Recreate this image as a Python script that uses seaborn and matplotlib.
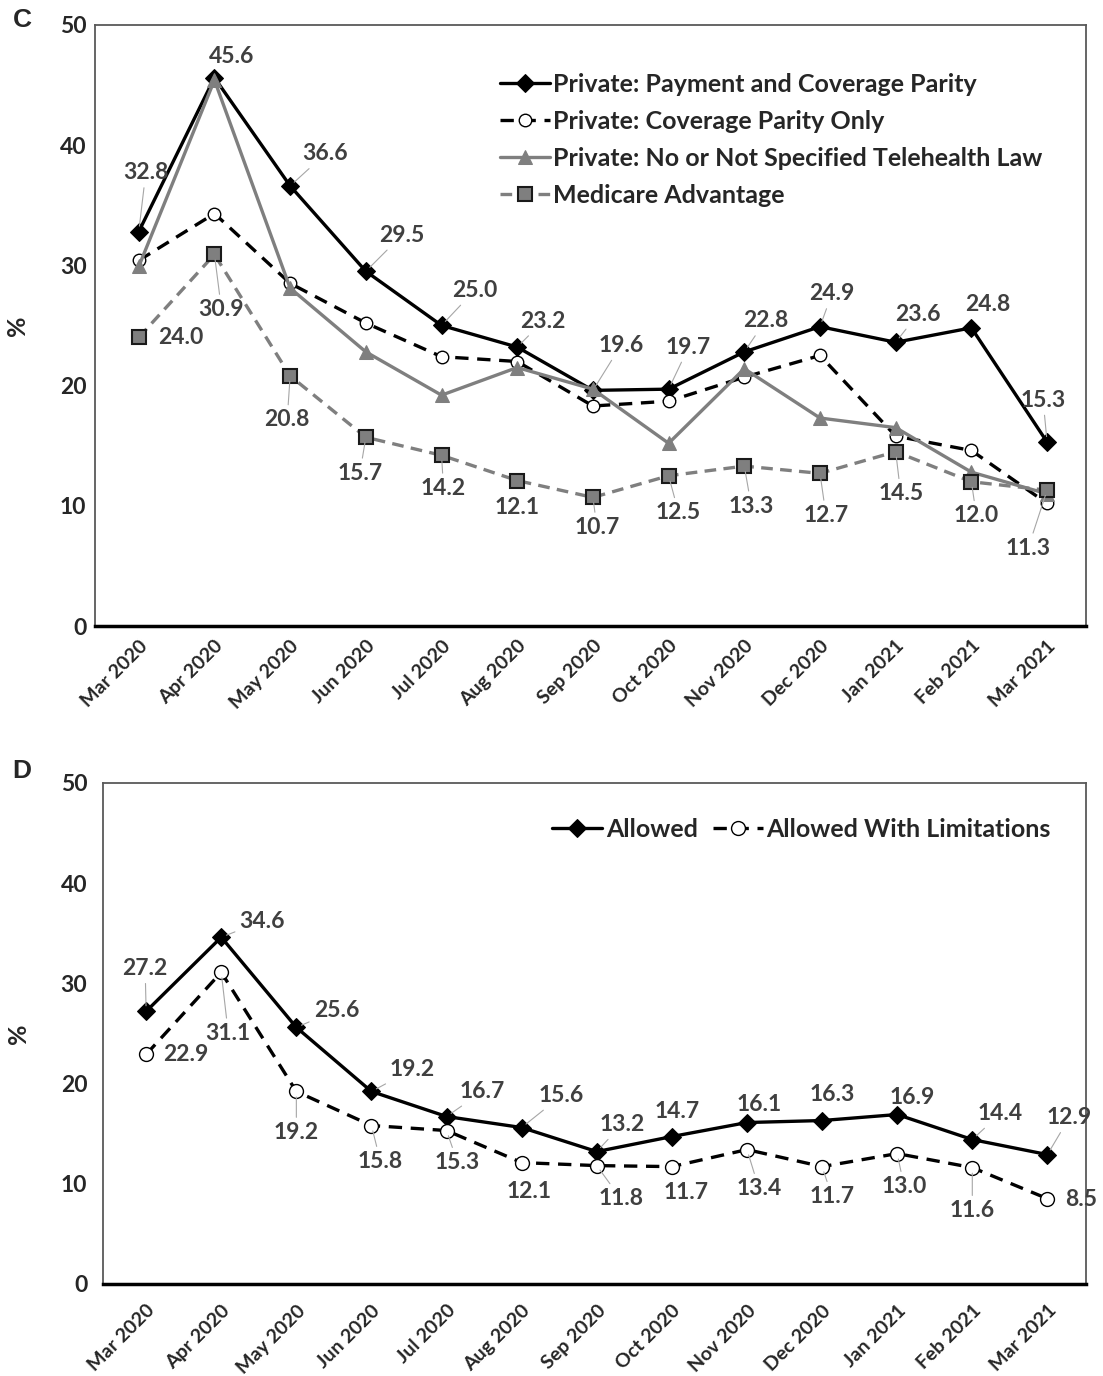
import numpy as np
import matplotlib
matplotlib.use('Agg')
import matplotlib.pyplot as plt
import seaborn as sns

# month categories
months = ['Mar 2020', 'Apr 2020', 'May 2020', 'Jun 2020', 'Jul 2020', 'Aug 2020', 'Sep 2020',
          'Oct 2020', 'Nov 2020', 'Dec 2020', 'Jan 2021', 'Feb 2021', 'Mar 2021']

# panel C series (%)
pay_parity = [32.8, 45.6, 36.6, 29.5, 25.0, 23.2, 19.6, 19.7, 22.8, 24.9, 23.6, 24.8, 15.3]
coverage_only = [30.4, 34.3, 28.5, 25.2, 22.4, 22.0, 18.3, 18.7, 20.7, 22.5, 15.8, 14.6, 10.2]
no_law = [29.9, 45.4, 28.1, 22.8, 19.2, 21.5, 19.7, 15.2, 21.4, 17.3, 16.5, 12.8, 11.0]
medicare_adv = [24.0, 30.9, 20.8, 15.7, 14.2, 12.1, 10.7, 12.5, 13.3, 12.7, 14.5, 12.0, 11.3]

# panel D series (%)
allowed = [27.2, 34.6, 25.6, 19.2, 16.7, 15.6, 13.2, 14.7, 16.1, 16.3, 16.9, 14.4, 12.9]
allowed_limited = [22.9, 31.1, 19.2, 15.8, 15.3, 12.1, 11.8, 11.7, 13.4, 11.7, 13.0, 11.6, 8.5]

# label offsets in pixels (dx right, dy down)
off_pay = [(7, -59), (17, -21), (35, -32), (36, -36), (33, -35), (26, -26), (28, -45),
           (20, -42), (21, -31), (12, -33), (22, -28), (16, -23), (-4, -42)]
off_med = [(42, 0), (7, 55), (-3, 44), (-6, 36), (2, 33), (0, 27), (4, 30),
           (10, 37), (7, 40), (6, 42), (5, 42), (5, 34), (-19, 58)]
off_allowed = [(-1, -43), (41, -16), (40, -17), (41, -22), (36, -25), (40, -32), (25, -27),
               (5, -25), (12, -18), (10, -26), (15, -17), (28, -26), (22, -37)]
off_limited = [(40, 0), (7, 61), (0, 41), (9, 36), (11, 32), (7, 29), (24, 33),
               (14, 26), (12, 39), (10, 30), (7, 33), (0, 43), (34, 1)]

sns.set_style('white')
plt.rcParams['font.family'] = ['Lato', 'DejaVu Sans']

x = np.arange(len(months))
label_color = '#404040'
lead_color = '#a6a6a6'


def add_labels(ax, vals, offsets):
    for i, (v, (dx, dy)) in enumerate(zip(vals, offsets)):
        # short offsets sit next to the marker, no leader line there
        arrow = None
        if (dx * dx + dy * dy) ** 0.5 > 30 and abs(dy) > 5:
            arrow = dict(arrowstyle='-', color=lead_color, lw=0.8, shrinkA=1, shrinkB=4)
        ax.annotate(f'{v:.1f}', xy=(i, v), xytext=(dx * 0.72, -dy * 0.72),
                    textcoords='offset points', ha='center', va='center',
                    fontsize=16.5, fontweight='bold', color=label_color, zorder=10,
                    arrowprops=arrow)


def style_axes(ax, ypad, xpad, ylab_x):
    ax.set_xlim(-0.58, 12.52)
    ax.set_ylim(0, 50)
    ax.set_yticks([0, 10, 20, 30, 40, 50])
    ax.set_yticklabels(['0', '10', '20', '30', '40', '50'], fontsize=16.5, fontweight='bold')
    ax.set_xticks(x)
    ax.set_xticklabels(months, rotation=45, ha='right', rotation_mode='anchor',
                       fontsize=14, fontweight='bold')
    ax.tick_params(axis='both', length=0)
    ax.tick_params(axis='y', pad=ypad)
    ax.tick_params(axis='x', pad=xpad)
    for s in ['top', 'right', 'left']:
        ax.spines[s].set_color('#595959')
        ax.spines[s].set_linewidth(1.3)
    ax.spines['bottom'].set_color('black')
    ax.spines['bottom'].set_linewidth(2.5)
    ax.set_xlabel('')
    ax.set_ylabel('%', fontsize=18, fontweight='bold')
    ax.yaxis.set_label_coords(ylab_x, 0.5)


fig = plt.figure(figsize=(11.03, 13.76), dpi=100)

# ---- panel C ----
ax1 = fig.add_axes([0.086, 0.545, 0.899, 0.437])
sns.lineplot(x=x, y=pay_parity, ax=ax1, color='black', linewidth=2.4, marker='D',
             markersize=9, markerfacecolor='black', markeredgecolor='black',
             label='Private: Payment and Coverage Parity')
sns.lineplot(x=x, y=coverage_only, ax=ax1, color='black', linewidth=2.4, marker='o',
             markersize=9, markerfacecolor='white', markeredgecolor='black', markeredgewidth=1,
             label='Private: Coverage Parity Only')
ax1.lines[-1].set_dashes((4, 2.6))
sns.lineplot(x=x, y=no_law, ax=ax1, color='#7f7f7f', linewidth=2.4, marker='^',
             markersize=10, markerfacecolor='#7f7f7f', markeredgecolor='#7f7f7f',
             label='Private: No or Not Specified Telehealth Law')
sns.lineplot(x=x, y=medicare_adv, ax=ax1, color='#7f7f7f', linewidth=2.4, marker='s',
             markersize=10, markerfacecolor='#7f7f7f', markeredgecolor='#1a1a1a',
             markeredgewidth=1.5, label='Medicare Advantage')
ax1.lines[-1].set_dashes((3.5, 2.2))
add_labels(ax1, pay_parity, off_pay)
add_labels(ax1, medicare_adv, off_med)
style_axes(ax1, ypad=6, xpad=8, ylab_x=-0.066)
ax1.legend(loc='upper left', bbox_to_anchor=(0.398, 0.937), frameon=False,
           prop={'family': 'Lato', 'weight': 'bold', 'size': 18},
           handlelength=2.0, handletextpad=0.15, labelspacing=0.56, borderaxespad=0)

# ---- panel D ----
ax2 = fig.add_axes([0.093, 0.067, 0.892, 0.364])
sns.lineplot(x=x, y=allowed, ax=ax2, color='black', linewidth=2.4, marker='D',
             markersize=9, markerfacecolor='black', markeredgecolor='black', label='Allowed')
sns.lineplot(x=x, y=allowed_limited, ax=ax2, color='black', linewidth=2.4, marker='o',
             markersize=10, markerfacecolor='white', markeredgecolor='black', markeredgewidth=1,
             label='Allowed With Limitations')
ax2.lines[-1].set_dashes((4, 2.6))
add_labels(ax2, allowed, off_allowed)
add_labels(ax2, allowed_limited, off_limited)
style_axes(ax2, ypad=11, xpad=13, ylab_x=-0.074)
ax2.legend(loc='center right', bbox_to_anchor=(0.974, 0.908), frameon=False, ncol=2,
           prop={'family': 'Lato', 'weight': 'bold', 'size': 18},
           handlelength=2.0, handletextpad=0.15, columnspacing=0.6, borderaxespad=0)

fig.text(0.02, 0.9855, 'C', fontsize=19, fontweight='bold', ha='center', va='center',
         family='Liberation Sans')
fig.text(0.02, 0.44, 'D', fontsize=19, fontweight='bold', ha='center', va='center',
         family='Liberation Sans')

fig.savefig('out.png', dpi=100, facecolor='white')
